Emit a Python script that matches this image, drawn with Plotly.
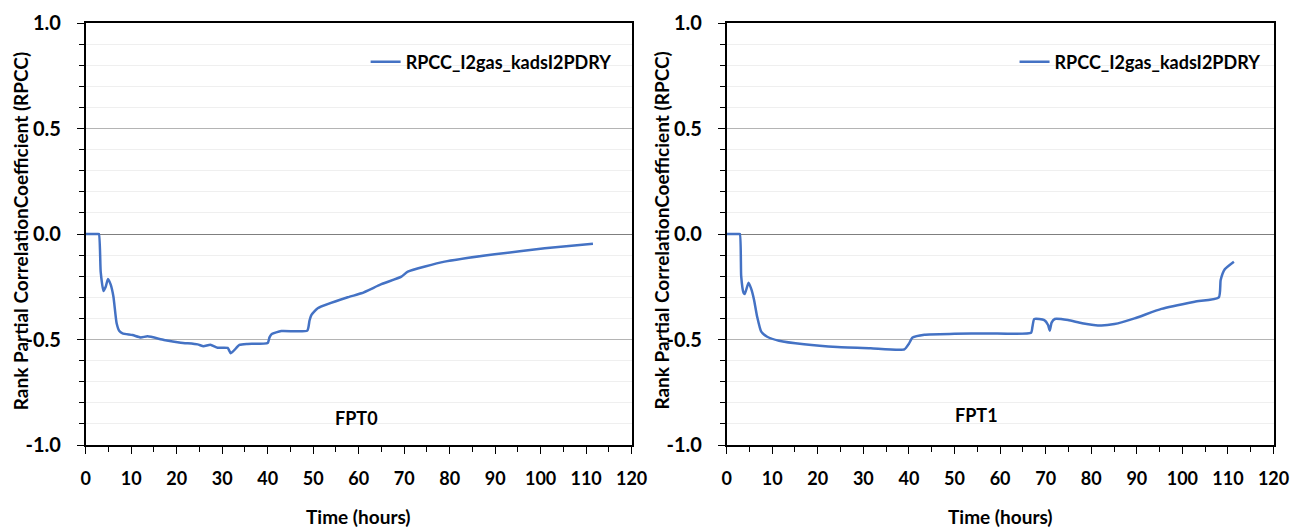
import plotly.graph_objects as go
from plotly.subplots import make_subplots

# FPT0 curve (hours, RPCC)
t_fpt0 = [0, 1.5, 2.5, 2.9, 3.3, 3.9, 4.4, 4.9, 5.5, 6.1, 6.8, 7.4, 8.1, 10.3, 12.1, 13.6, 17.2,
          20.9, 24.6, 25.9, 27.4, 29.0, 31.2, 31.9, 33.8, 35.6, 40.0, 40.4, 40.9, 43.0,
          48.7, 49.2, 49.6, 51.0, 57.6, 60.6, 65.0, 69.4, 70.8, 78.9, 89.9, 100.9, 111.5]
r_fpt0 = [0, 0, 0, 0, -0.18, -0.27, -0.25, -0.213, -0.24, -0.297, -0.423, -0.46, -0.471, -0.479,
          -0.49, -0.485, -0.502, -0.515, -0.523, -0.532, -0.525, -0.539, -0.54, -0.565,
          -0.526, -0.521, -0.517, -0.49, -0.474, -0.46, -0.458, -0.41, -0.384, -0.352,
          -0.30, -0.281, -0.238, -0.202, -0.178, -0.131, -0.096, -0.068, -0.046]

# FPT1 curve
t_fpt1 = [0, 1.5, 2.5, 2.9, 3.2, 3.7, 4.0, 4.8, 5.4, 6.0, 6.7, 7.6, 8.9, 11.5, 17.0, 24.3, 31.6,
          39.0, 40.0, 40.8, 43.4, 50.0, 57.3, 66.8, 67.1, 67.5, 69.7, 70.5, 70.9, 71.3,
          72.0, 74.9, 78.0, 82.2, 85.1, 89.5, 95.4, 102.7, 108.0, 108.4, 109.3, 111.3]
r_fpt1 = [0, 0, 0, 0, -0.2, -0.278, -0.284, -0.231, -0.26, -0.31, -0.392, -0.463, -0.487, -0.506,
          -0.523, -0.536, -0.542, -0.547, -0.52, -0.491, -0.477, -0.473, -0.471, -0.468,
          -0.44, -0.403, -0.408, -0.43, -0.458, -0.42, -0.403, -0.408, -0.423, -0.434,
          -0.427, -0.40, -0.355, -0.321, -0.30, -0.218, -0.167, -0.131]

series_name = "RPCC_I2gas_kadsI2PDRY"
panel_labels = ["FPT0", "FPT1"]
label_pos = [(59.5, -0.87), (54.9, -0.86)]
y_tickvals = [-1.0, -0.5, 0.0, 0.5, 1.0]
y_ticktext = ["-1.0", "-0.5", "0.0", "0.5", "1.0"]
y_title = "Rank Partial CorrelationCoefficient (RPCC)"
x_title = "Time (hours)"

W, H = 1303, 531
BLUE = "#4472C4"
FONT = "Lato"
TOP, BOT = 23, 445


def px(x):
    # horizontal pixel -> paper fraction (small correction for how the page renders)
    return (x - 4.3) / 0.984 / W


fig = make_subplots(rows=1, cols=2)

line_style = dict(color=BLUE, width=2.5, shape="spline", smoothing=0.5)
fig.add_trace(go.Scatter(x=t_fpt0, y=r_fpt0, mode="lines", name=series_name, showlegend=True,
                         line=line_style, legend="legend"), row=1, col=1)
fig.add_trace(go.Scatter(x=t_fpt1, y=r_fpt1, mode="lines", name=series_name, showlegend=True,
                         line=line_style, legend="legend2"), row=1, col=2)

domains = [(px(85), px(631)), (px(726), px(1273))]
title_x = [px(19.5), px(660)]
for i, dom in enumerate(domains, start=1):
    fig.update_xaxes(domain=list(dom), range=[0, 120], dtick=10, tick0=0,
                     showgrid=False, zeroline=False,
                     showline=True, linecolor="black", linewidth=1.5, mirror=True,
                     ticks="outside", ticklen=7, tickcolor="black", ticklabelstandoff=10,
                     minor=dict(dtick=5, ticks="outside", ticklen=5, tickcolor="black"),
                     tickfont=dict(family=FONT, size=18, color="black", weight="bold"),
                     row=1, col=i)
    fig.update_yaxes(range=[-1, 1], tickvals=y_tickvals, ticktext=y_ticktext,
                     showgrid=True, gridcolor="#b4b4b4", gridwidth=1,
                     zeroline=True, zerolinecolor="#7f7f7f", zerolinewidth=1.2,
                     showline=True, linecolor="black", linewidth=1.5, mirror=True,
                     ticks="outside", ticklen=7, tickcolor="black", ticklabelstandoff=12,
                     minor=dict(tick0=0, dtick=0.1, ticks="outside", ticklen=5, tickcolor="black",
                                showgrid=True, gridcolor="#efefef", gridwidth=1),
                     tickfont=dict(family=FONT, size=20, color="black", weight="bold"),
                     row=1, col=i)

    x0, x1 = dom
    fig.add_annotation(text=y_title, xref="paper", yref="paper",
                       x=title_x[i - 1], y=(BOT - 231) / (BOT - TOP),
                       xanchor="center", yanchor="middle",
                       textangle=-90, showarrow=False,
                       font=dict(family=FONT, size=19, color="black", weight="bold"))
    fig.add_annotation(text=x_title, xref="paper", yref="paper",
                       x=(x0 + x1) / 2, y=-(516 - BOT) / (BOT - TOP),
                       xanchor="center", yanchor="middle", showarrow=False,
                       font=dict(family=FONT, size=19, color="black", weight="bold"))
    fig.add_annotation(text=panel_labels[i - 1], xref="x" if i == 1 else f"x{i}",
                       yref="y" if i == 1 else f"y{i}",
                       x=label_pos[i - 1][0], y=label_pos[i - 1][1], showarrow=False,
                       font=dict(family=FONT, size=18, color="black", weight="bold"))

legend_style = dict(xanchor="right", yanchor="middle", y=(BOT - 62) / (BOT - TOP),
                    bgcolor="rgba(255,255,255,0)",
                    font=dict(family=FONT, size=18, color="black", weight="bold"))
fig.update_layout(
    width=W, height=H,
    margin=dict(l=0, r=0, t=TOP, b=H - BOT),
    plot_bgcolor="white", paper_bgcolor="white",
    legend=dict(x=px(616), **legend_style),
    legend2=dict(x=px(1265), **legend_style),
)

fig.write_html("out.html", config={"displayModeBar": False},
               post_script="document.body.style.margin='0';")
